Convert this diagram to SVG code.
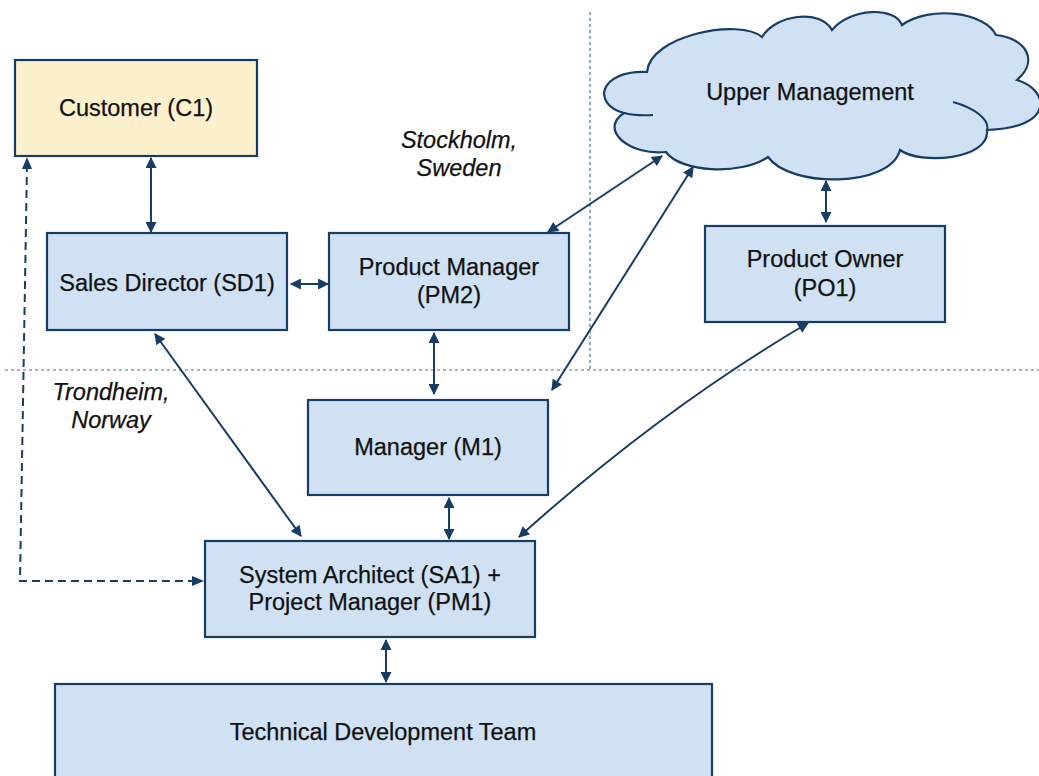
<svg xmlns="http://www.w3.org/2000/svg" width="1039" height="776" viewBox="0 0 1039 776">
  <style>
    .box { fill: #cfe1f2; stroke: #173d66; stroke-width: 2.2; }
    .cust { fill: #fdf0cd; stroke: #173d66; stroke-width: 2.2; }
    .lbl { font-family: "Liberation Sans", Arial, sans-serif; font-size: 23.5px; fill: #111; stroke: #111; stroke-width: 0.25; text-anchor: middle; }
    .loc { font-family: "Liberation Sans", Arial, sans-serif; font-size: 23.5px; font-style: italic; fill: #111; stroke: #111; stroke-width: 0.25; text-anchor: middle; }
    .link { fill: none; stroke: #173d66; stroke-width: 2; marker-start: url(#arr); marker-end: url(#arr); }
    .dash { fill: none; stroke: #173d66; stroke-width: 2; stroke-dasharray: 8 5; }
    .zone { fill: none; stroke: #4f6f90; stroke-width: 1.2; stroke-dasharray: 3 3; }
  </style>
  <defs>
    <marker id="arr" viewBox="0 0 10 10" refX="9" refY="5" markerWidth="7" markerHeight="5.5" markerUnits="strokeWidth" orient="auto-start-reverse">
      <path d="M0,0 L10,5 L0,10 z" fill="#173d66"/>
    </marker>
  </defs>
  <rect width="1039" height="776" fill="#ffffff"/>

  <!-- site boundaries -->
  <g id="zones">
    <line class="zone" x1="590" y1="12" x2="590" y2="370"/>
    <line class="zone" x1="5" y1="370" x2="1039" y2="370"/>
  </g>

  <g id="upper-management">
    <path class="box" d="M647,72 C650,35 740,18 762,37 C775,15 820,8 832,30 C850,8 895,6 902,25 C930,5 985,12 996,35 C1025,38 1040,60 1017,80 C1050,90 1055,128 987,130 C990,160 920,165 900,150 C890,188 790,188 768,157 C740,176 680,172 666,152 C630,156 598,130 624,113 C592,105 598,70 647,72 Z"/>
    <path fill="none" stroke="#173d66" stroke-width="2" d="M624,113 Q636,116 653,115 M953,102 C975,108 990,120 987,130"/>
    <text class="lbl" x="810" y="100">Upper Management</text>
  </g>

  <g id="customer">
    <rect class="cust" x="15" y="60" width="242" height="96"/>
    <text class="lbl" x="136" y="116">Customer (C1)</text>
  </g>

  <g id="sales-director">
    <rect class="box" x="47" y="233" width="240" height="97"/>
    <text class="lbl" x="167" y="291">Sales Director (SD1)</text>
  </g>

  <g id="product-manager">
    <rect class="box" x="329" y="233" width="240" height="97"/>
    <text class="lbl" x="449" y="275">Product Manager</text>
    <text class="lbl" x="449" y="303">(PM2)</text>
  </g>

  <g id="product-owner">
    <rect class="box" x="705" y="226" width="240" height="96"/>
    <text class="lbl" x="825" y="267">Product Owner</text>
    <text class="lbl" x="825" y="296">(PO1)</text>
  </g>

  <g id="manager">
    <rect class="box" x="308" y="400" width="240" height="95"/>
    <text class="lbl" x="428" y="455">Manager (M1)</text>
  </g>

  <g id="system-architect">
    <rect class="box" x="205" y="541" width="330" height="96"/>
    <text class="lbl" x="370" y="583">System Architect (SA1) +</text>
    <text class="lbl" x="370" y="610">Project Manager (PM1)</text>
  </g>

  <g id="tech-team">
    <rect class="box" x="55" y="684" width="657" height="110"/>
    <text class="lbl" x="383" y="740">Technical Development Team</text>
  </g>

  <g id="locations">
    <text class="loc" x="459" y="148">Stockholm,</text>
    <text class="loc" x="459" y="176">Sweden</text>
    <text class="loc" x="111" y="400">Trondheim,</text>
    <text class="loc" x="111" y="428">Norway</text>
  </g>

  <g id="connectors">
    <line class="link" x1="151" y1="158" x2="151" y2="232"/>
    <line class="link" x1="291" y1="284" x2="328" y2="284"/>
    <line class="link" x1="548" y1="232" x2="662" y2="156"/>
    <line class="link" x1="552" y1="390" x2="693" y2="167"/>
    <line class="link" x1="434" y1="333" x2="434" y2="394"/>
    <line class="link" x1="826" y1="181" x2="826" y2="222"/>
    <line class="link" x1="155" y1="334" x2="301" y2="536"/>
    <line class="link" x1="449" y1="498" x2="449" y2="539"/>
    <path class="link" d="M808,323 Q660,410 519,537"/>
    <line class="link" x1="386" y1="640" x2="386" y2="682"/>
    <path class="dash" d="M27,164 L20,581 L194,581"/>
    <path d="M27,157 L22,169 L32,169 Z" fill="#173d66"/>
    <path d="M204,581 L192,576 L192,586 Z" fill="#173d66"/>
  </g>
</svg>
